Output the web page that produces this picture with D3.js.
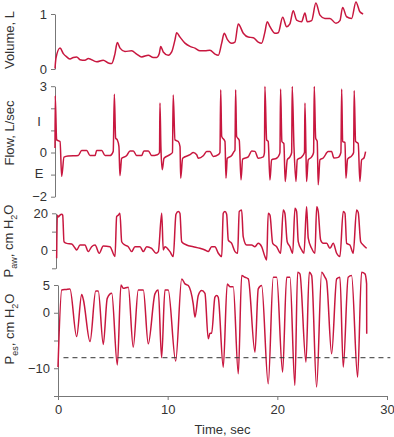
<!DOCTYPE html>
<html>
<head>
<meta charset="utf-8">
<script src="https://cdn.jsdelivr.net/npm/d3@7"></script>
<style>
body { margin: 0; background: #fff; }
svg text { font-family: "Liberation Sans", Arial, Helvetica, sans-serif; font-size: 13px; fill: #333; }
.axis path, .axis line { stroke: #777; stroke-width: 1; fill: none; }
.trace { fill: none; stroke: #c8173f; stroke-width: 1.5; stroke-linejoin: round; }
.threshold { stroke: #333; stroke-width: 1; stroke-dasharray: 5,4; }
</style>
</head>
<body>
<svg id="chart" width="394" height="437"></svg>
<script>
// traces: [time (sec), value]
var volume = [[0,0.01],[0.09,0.2],[0.46,0.38],[0.76,0.28],[1.07,0.22],[1.37,0.18],[1.67,0.21],[1.98,0.22],[2.28,0.17],[2.73,0.16],[3.04,0.19],[3.8,0.13],[4.4,0.16],[4.86,0.11],[5.17,0.1],[5.47,0.28],[5.68,0.48],[5.93,0.38],[6.38,0.32],[6.99,0.33],[7.45,0.27],[7.9,0.22],[8.51,0.25],[8.96,0.21],[9.27,0.21],[9.51,0.28],[9.64,0.41],[9.87,0.31],[10.33,0.25],[10.64,0.31],[10.94,0.53],[11.09,0.66],[11.4,0.58],[11.85,0.47],[12.31,0.41],[12.76,0.38],[13.22,0.33],[13.67,0.33],[14.13,0.34],[14.59,0.27],[14.89,0.25],[15.2,0.47],[15.43,0.65],[15.71,0.54],[16.11,0.47],[16.41,0.49],[16.71,0.82],[17.17,0.65],[17.62,0.58],[18.08,0.57],[18.53,0.49],[18.84,0.47],[19.14,0.67],[19.35,0.86],[19.6,0.77],[20.06,0.65],[20.36,0.66],[20.76,0.94],[21.12,0.77],[21.42,0.82],[21.72,1.06],[22.03,0.89],[22.49,0.86],[22.79,1.02],[23.0,0.86],[23.4,0.88],[23.79,1.2],[24.16,0.98],[24.61,0.92],[25.07,0.92],[25.62,0.83],[25.98,0.88],[26.23,1.12],[26.59,0.95],[27.05,0.92],[27.44,1.22],[27.8,1.04],[28.1,1.0]];

var flow = [[0,0.2],[0.02,2.57],[0.15,0.57],[0.46,0.5],[0.61,-1.08],[0.82,-0.21],[1.19,-0.16],[2.12,-0.14],[2.43,0.09],[2.89,0.09],[3.19,-0.14],[3.65,-0.14],[3.8,0.09],[4.26,0.09],[4.56,-0.14],[5.01,-0.14],[5.31,0.05],[5.41,2.64],[5.53,0.65],[5.68,0.57],[5.83,0.27],[5.92,-1.05],[6.08,-0.26],[6.54,-0.14],[6.84,0.07],[7.14,0.07],[7.45,-0.14],[7.9,-0.14],[8.11,0.07],[8.51,0.07],[8.82,-0.14],[9.33,-0.1],[9.53,0.0],[9.57,2.24],[9.66,0.2],[9.78,-0.78],[9.94,-0.26],[10.48,-0.1],[10.71,0.0],[10.78,2.6],[10.94,0.57],[11.24,0.5],[11.4,0.27],[11.46,-1.16],[11.64,-0.26],[12.31,-0.1],[12.61,0.0],[12.92,-0.1],[13.07,-0.26],[13.52,-0.15],[13.83,0.04],[14.13,0.04],[14.43,-0.18],[14.89,-0.1],[15.04,0.0],[15.11,2.84],[15.2,0.73],[15.5,0.5],[15.59,-1.16],[15.71,-0.26],[16.11,-0.14],[16.32,0.04],[16.41,0.1],[16.47,2.84],[16.56,0.73],[16.8,0.55],[16.96,-1.24],[17.11,-0.3],[17.62,-0.2],[17.93,0.07],[18.23,0.05],[18.53,-0.26],[18.99,-0.2],[19.1,0.0],[19.14,2.99],[19.3,0.57],[19.44,0.5],[19.6,-1.24],[19.75,-0.33],[20.21,-0.26],[20.45,-0.1],[20.51,0.0],[20.57,2.87],[20.69,0.5],[20.87,0.4],[20.99,-1.31],[21.18,-0.33],[21.42,-0.2],[21.58,0.0],[21.63,2.99],[21.79,0.27],[21.97,-1.31],[22.09,-0.33],[22.49,-0.2],[22.75,0.0],[22.79,2.24],[22.88,0.12],[22.94,-1.31],[23.09,-0.33],[23.4,-0.2],[23.58,0.0],[23.64,2.99],[23.77,0.65],[23.91,0.5],[24.0,-1.46],[24.16,-0.33],[24.46,-0.25],[24.91,0.04],[25.22,0.04],[25.43,-0.25],[25.83,-0.22],[26.07,0.0],[26.14,2.87],[26.23,0.5],[26.44,0.45],[26.53,-1.16],[26.68,-0.3],[27.05,-0.15],[27.23,0.0],[27.28,2.8],[27.41,0.5],[27.65,0.4],[27.8,-1.31],[27.96,-0.33],[28.17,-0.25],[28.32,0.04]];

var paw = [[0.06,-4.5],[0.12,19],[0.23,18],[0.36,19],[0.52,19.5],[0.61,19],[0.73,4.5],[0.98,3.6],[1.43,3.3],[1.73,1.1],[1.89,0],[2.19,2.7],[2.64,2.7],[2.94,-0.9],[3.25,1.8],[3.56,2.7],[3.95,-1.8],[4.31,2.2],[4.92,1.8],[5.38,-3.6],[5.53,18.2],[5.68,19],[5.83,20],[5.99,4.5],[6.29,2.7],[6.59,1.8],[6.9,-0.9],[7.2,1.8],[7.66,1.8],[7.96,-0.9],[8.27,1.8],[8.72,0.9],[9.12,-1.8],[9.33,-0.9],[9.64,20],[9.78,0],[9.94,1.8],[10.39,-0.9],[10.69,-3.6],[10.94,19.5],[11.15,21],[11.3,20],[11.46,4.5],[11.91,2.7],[12.52,1.8],[13.13,0.9],[13.58,0],[13.88,-0.9],[14.19,1.8],[14.49,1.8],[14.8,-1.8],[15.11,-3.6],[15.25,20],[15.41,21],[15.56,19.5],[15.71,5.4],[16.02,3.6],[16.32,-0.9],[16.56,-1.8],[16.71,21],[16.93,21.8],[17.07,7.3],[17.38,2.7],[17.84,2.7],[18.14,1.8],[18.44,3.6],[18.75,1.8],[19.05,-3.6],[19.21,-5.5],[19.35,20],[19.51,19],[19.76,3.6],[20.12,1.8],[20.48,-1.8],[20.72,21.8],[20.87,20],[21.08,4.5],[21.33,1.8],[21.58,-1.8],[21.79,22.7],[21.94,21],[22.09,4.5],[22.4,0],[22.61,-1.8],[22.85,23.6],[23.0,6.4],[23.31,0.9],[23.61,-1.8],[23.77,23.6],[23.91,21],[24.13,5.4],[24.37,3.6],[24.68,3.6],[24.98,0.9],[25.28,3.6],[25.59,-1.8],[25.89,-3.6],[26.19,21],[26.35,20],[26.5,3.6],[26.8,2.7],[27.1,-1.8],[27.41,21.8],[27.56,20.5],[27.78,4.5],[28.01,2.7],[28.32,0.9]];

var pes = [[0,-9.8],[0.34,4.1],[0.73,4.2],[1.09,4.3],[1.7,-4.3],[2.16,3.3],[2.31,2.4],[2.92,-5.2],[3.44,3.9],[3.67,3.9],[4.13,-5.7],[4.49,2.6],[4.9,3.5],[5.41,-9.4],[5.74,5.0],[5.95,4.4],[6.41,4.6],[6.86,-6.2],[7.32,4.1],[7.78,4.1],[8.23,-5.6],[8.84,3.4],[9.14,4.1],[9.45,-8.1],[9.75,4.1],[10.05,4.1],[10.73,-8.7],[11.28,6.1],[11.58,5.2],[11.88,4.9],[12.33,1.6],[12.49,-0.8],[12.79,3.1],[13.1,4.0],[13.4,3.5],[13.7,-4.7],[13.86,-3.7],[14.01,-3.7],[14.31,2.8],[14.47,3.1],[14.61,2.8],[15.07,-9.8],[15.43,5.2],[15.68,4.7],[15.98,4.7],[16.44,-11.0],[16.75,6.7],[17.05,6.4],[17.35,6.1],[17.96,-7.1],[18.26,4.3],[18.57,4.9],[19.17,-12.8],[19.63,6.4],[19.94,6.4],[20.48,-10.7],[20.85,6.4],[21.15,6.4],[21.6,-13.1],[21.85,7.3],[22.06,7.0],[22.61,-8.9],[22.91,7.3],[23.13,6.7],[23.58,-13.4],[24.04,7.3],[24.34,6.4],[24.49,5.8],[24.95,-7.4],[25.41,6.1],[25.71,6.4],[26.01,-9.8],[26.46,6.4],[26.77,6.7],[27.32,-11.6],[27.68,7.3],[27.99,7.0],[28.14,5.2],[28.15,-3.8]];

// axis ticks and labels
var volTicks = [0, 1], volTickLabels = ["0", "1"];
var flowTicks = [-2, -1, 0, 1, 2, 3], flowTickLabels = ["\u22122", "", "0", "", "", "3"];
var flowPhaseLabels = [[1.4, "I"], [-0.95, "E"]];
var pawTicks = [-10, 0, 10, 20], pawTickLabels = ["", "0", "", "20"];
var pesTicks = [-15, -10, -5, 0, 5], pesTickLabels = ["", "\u221210", "", "0", "5"];
var timeTicks = [0, 10, 20, 30], timeTickLabels = ["0", "10", "20", "30"];
var pesThreshold = -8.1, thresholdSpan = [0.5, 30.3];

// axis titles: [text, subscript?]
var volTitle = [["Volume, L"]];
var flowTitle = [["Flow, L/sec"]];
var pawTitle = [["P"], ["aw", 1], [", cm H"], ["2", 1], ["O"]];
var pesTitle = [["P"], ["es", 1], [", cm H"], ["2", 1], ["O"]];

var svg = d3.select("#chart");
var x = d3.scaleLinear().domain([0, 30]).range([0, 329]);

var line = function(y) {
  return d3.line()
    .x(function(d) { return x(d[0]); })
    .y(function(d) { return y(d[1]); })
    .curve(d3.curveMonotoneX);
};

var panels = [
  { data: volume, dom: [0, 1], range: [69, 14], x0: 55, ticks: volTicks, labels: volTickLabels, title: volTitle, ty: 40, tx: 14 },
  { data: flow, dom: [-2, 3], range: [196.7, 86.2], x0: 55, ticks: flowTicks, labels: flowTickLabels, title: flowTitle, ty: 133, tx: 14 },
  { data: paw, dom: [-10, 20], range: [268.3, 213.3], x0: 56, ticks: pawTicks, labels: pawTickLabels, title: pawTitle, ty: 241, tx: 13 },
  { data: pes, dom: [-15, 5], range: [396, 285], x0: 58, ticks: pesTicks, labels: pesTickLabels, title: pesTitle, ty: 329, tx: 14 }
];

panels.forEach(function(p, i) {
  var y = d3.scaleLinear().domain(p.dom).range(p.range);
  p.y = y;
  var g = svg.append("g").attr("transform", "translate(" + p.x0 + ",0)");
  p.g = g;

  g.append("g")
    .attr("class", "axis")
    .call(d3.axisLeft(y)
      .tickValues(p.ticks)
      .tickSize(4)
      .tickSizeOuter(0)
      .tickPadding(4)
      .tickFormat(function(d) { return p.labels[p.ticks.indexOf(d)]; }))
    .attr("font-size", null)
    .attr("font-family", null);

  g.append("path")
    .datum(p.data)
    .attr("class", "trace")
    .attr("d", line(y));

  var t = svg.append("text")
    .attr("text-anchor", "middle")
    .attr("transform", "translate(" + p.tx + "," + p.ty + ") rotate(-90)");
  var shifted = false;
  p.title.forEach(function(part) {
    var s = t.append("tspan").text(part[0]);
    if (part[1]) { s.attr("font-size", 9).attr("dy", 4); shifted = true; }
    else if (shifted) { s.attr("dy", -4); shifted = false; }
  });
});

// I / E labels on flow axis
var fp = panels[1];
fp.g.selectAll(".phase")
  .data(flowPhaseLabels)
  .enter().append("text")
  .attr("class", "phase")
  .attr("x", -16)
  .attr("y", function(d) { return fp.y(d[0]); })
  .attr("dy", "0.35em")
  .attr("text-anchor", "middle")
  .text(function(d) { return d[1]; });

// time axis and threshold on esophageal pressure
var pp = panels[3];
pp.g.append("g")
  .attr("class", "axis")
  .attr("transform", "translate(0," + pp.y(-15) + ")")
  .call(d3.axisBottom(x)
    .tickValues(timeTicks)
    .tickSize(4)
    .tickSizeOuter(0)
    .tickPadding(5)
    .tickFormat(function(d, i) { return timeTickLabels[i]; }))
  .attr("font-size", null)
  .attr("font-family", null);

pp.g.append("line")
  .attr("class", "threshold")
  .attr("x1", x(thresholdSpan[0]))
  .attr("x2", x(thresholdSpan[1]))
  .attr("y1", pp.y(pesThreshold))
  .attr("y2", pp.y(pesThreshold));

pp.g.append("text")
  .attr("x", x(15))
  .attr("y", 434)
  .attr("text-anchor", "middle")
  .text("Time, sec");
</script>
</body>
</html>
